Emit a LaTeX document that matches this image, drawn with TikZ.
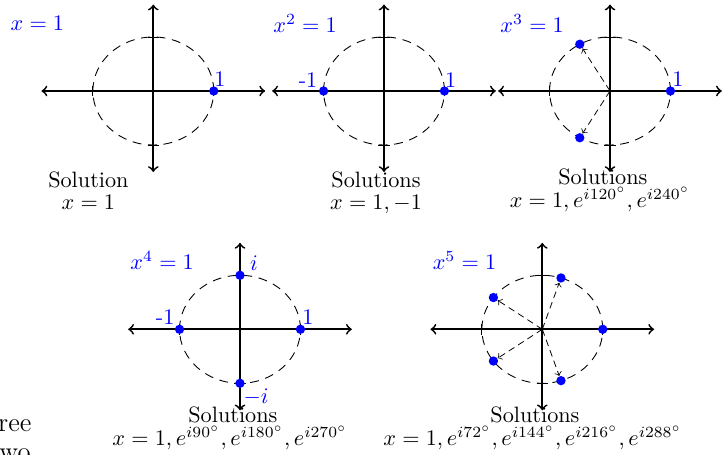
\documentclass[tikz,border=0pt]{standalone}
\usepackage{tikz}
\tikzset{
  axis/.style={thick, <->},
  unit/.style={dash pattern=on 4pt off 3pt, line width=0.4pt},
  tickmark/.style={line width=0.4pt},
  root/.style={circle, fill=blue, inner sep=0pt, minimum size=4.2pt},
  ray/.style={->, dash pattern=on 3pt off 2pt, line width=0.35pt},
  lab/.style={text=blue, inner sep=0pt},
  eqn/.style={text=blue, anchor=base west, inner sep=0pt},
  sol/.style={anchor=base, inner sep=0pt},
  side/.style={anchor=base east, inner sep=0pt, font=\large},
  plane/.pic={
    \draw[unit] (0,0) circle [radius=1];
    \draw[tickmark] (1,0) +(0,-2.4pt) -- +(0,2.4pt) (-1,0) +(0,-2.4pt) -- +(0,2.4pt)
      (0,1) +(-2.5pt,0) -- +(2.5pt,0) (0,-1) +(-2.5pt,0) -- +(2.5pt,0);
    \draw[axis] (-1.85,0) -- (1.85,0);
    \draw[axis] (0,-1.5) -- (0,1.6);
  }
}

\begin{document}
\begin{tikzpicture}[x=0.45pt, y=0.45pt]
  \useasboundingbox (0,0) rectangle (728,455);

  \begin{scope}[shift={(153.3,364)}, x=27.2pt, y=24.3pt]
    \pic {plane};
    \coordinate (o1) at (0,0);
    \node[root] (p1r0) at (0:1) {};
    \node[lab, xshift=2.8pt, yshift=5.4pt] (p1l0) at (p1r0) {1};
    \node[eqn] (p1eq) at (-64.4pt,27pt) {$x=1$};
    \node[sol] (p1sol) at (-29.2pt,-43.3pt) {Solution};
    \node[sol] (p1ans) at (-29.2pt,-53.4pt) {$x=1$};
  \end{scope}

  \begin{scope}[shift={(384,364)}, x=27.2pt, y=24.3pt]
    \pic {plane};
    \coordinate (o2) at (0,0);
    \node[root] (p2r0) at (0:1) {};
    \node[root] (p2r1) at (180:1) {};
    \node[lab, xshift=2.8pt, yshift=5pt] (p2l0) at (p2r0) {1};
    \node[lab, xshift=-7pt, yshift=5pt] (p2l1) at (p2r1) {-1};
    \node[eqn] (p2eq) at (-50pt,26.4pt) {$x^2=1$};
    \node[sol] (p2sol) at (-3.6pt,-43.3pt) {Solutions};
    \node[sol] (p2ans) at (-3.6pt,-53.4pt) {$x=1,-1$};
  \end{scope}

  \begin{scope}[shift={(610,364)}, x=27.2pt, y=24.3pt]
    \pic {plane};
    \coordinate (o3) at (0,0);
    \node[root] (p3r0) at (0:1) {};
    \node[root] (p3r1) at (120:1) {};
    \node[root] (p3r2) at (240:1) {};
    \draw[ray] (o3) -- (p3r1);
    \draw[ray] (o3) -- (p3r2);
    \node[lab, xshift=3.4pt, yshift=5.4pt] (p3l0) at (p3r0) {1};
    \node[eqn] (p3eq) at (-49.5pt,26.5pt) {$x^3=1$};
    \node[sol] (p3sol) at (-3.2pt,-42pt) {Solutions};
    \node[sol] (p3ans) at (-4.5pt,-52.5pt) {$x=1,e^{i120^\circ},e^{i240^\circ}$};
  \end{scope}

  \begin{scope}[shift={(240,125.7)}, x=27.2pt, y=24.3pt]
    \pic {plane};
    \coordinate (o4) at (0,0);
    \node[root] (p4r0) at (0:1) {};
    \node[root] (p4r1) at (90:1) {};
    \node[root] (p4r2) at (180:1) {};
    \node[root] (p4r3) at (270:1) {};
    \node[lab, xshift=3.4pt, yshift=5.4pt] (p4l0) at (p4r0) {1};
    \node[lab, xshift=6.3pt, yshift=5.5pt] (p4l1) at (p4r1) {$i$};
    \node[lab, xshift=-6.5pt, yshift=5.4pt] (p4l2) at (p4r2) {-1};
    \node[lab, xshift=7.2pt, yshift=-6pt] (p4l3) at (p4r3) {$-i$};
    \node[eqn] (p4eq) at (-49.5pt,26.7pt) {$x^4=1$};
    \node[sol] (p4sol) at (-3.2pt,-42pt) {Solutions};
    \node[sol] (p4ans) at (-4.5pt,-52.5pt) {$x=1,e^{i90^\circ},e^{i180^\circ},e^{i270^\circ}$};
  \end{scope}

  \begin{scope}[shift={(542.3,125.7)}, x=27.2pt, y=24.3pt]
    \pic {plane};
    \coordinate (o5) at (0,0);
    \node[root] (p5r0) at (0:1) {};
    \node[root] (p5r1) at (72:1) {};
    \node[root] (p5r2) at (144:1) {};
    \node[root] (p5r3) at (216:1) {};
    \node[root] (p5r4) at (288:1) {};
    \draw[ray] (o5) -- (p5r1);
    \draw[ray] (o5) -- (p5r2);
    \draw[ray] (o5) -- (p5r3);
    \draw[ray] (o5) -- (p5r4);
    \node[eqn] (p5eq) at (-49.5pt,26.7pt) {$x^5=1$};
    \node[sol] (p5sol) at (-3.3pt,-42pt) {Solutions};
    \node[sol] (p5ans) at (-4.3pt,-52.5pt) {$x=1,e^{i72^\circ},e^{i144^\circ},e^{i216^\circ},e^{i288^\circ}$};
  \end{scope}

  \node[side] (txt1) at (32,23.3) {ree};
  \node[side] (txt2) at (31,-5.5) {two};
\end{tikzpicture}
\end{document}
